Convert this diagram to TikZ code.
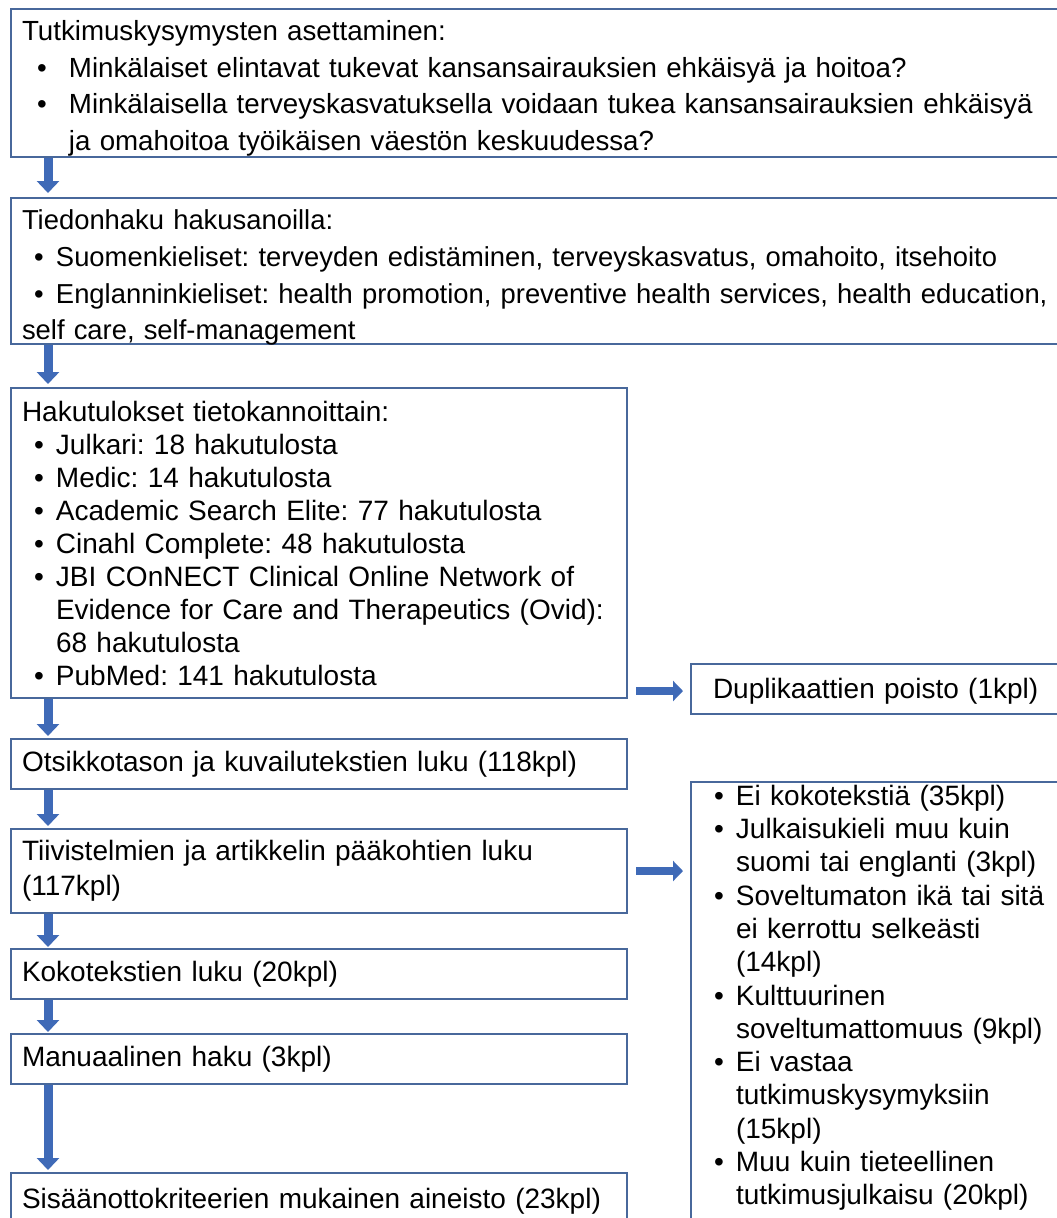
\documentclass[tikz,border=0pt]{standalone}
\usepackage{fontspec}
\setmainfont{Liberation Sans}
\usetikzlibrary{arrows.meta,calc}
\definecolor{boxline}{RGB}{72,104,155}
\definecolor{arrfill}{RGB}{63,106,183}
\newcommand{\bA}[1]{\makebox[47pt][l]{\hspace*{15pt}\textbullet}#1}
\newcommand{\cA}[1]{\hspace*{47pt}#1}
\newcommand{\bB}[1]{\makebox[34pt][l]{\hspace*{12pt}\textbullet}#1}
\newcommand{\cB}[1]{\hspace*{34pt}#1}
\frenchspacing
\begin{document}
\begin{tikzpicture}[x=1pt,y=-1pt,
  box/.style={draw=boxline, line width=2pt, anchor=north west, align=left,
    inner xsep=11pt, inner ysep=0pt, font=\frenchspacing\fontsize{28}{36.7}\selectfont},
  varrow/.style={arrfill, line width=9pt, -{Triangle[width=22pt,length=12pt]}},
  harrow/.style={arrfill, line width=8pt, -{Triangle[width=20pt,length=10pt]}}]
\useasboundingbox (0,0) rectangle (1057,1218);
\fill[white] (0,0) rectangle (1057,1218);
\clip (0,0) rectangle (1057,1218);

\node[box, text width=1060pt, minimum height=148pt, font=\frenchspacing\fontsize{27.7}{36.7}\selectfont] (b1) at (10,8) {%
\rule{0pt}{31pt}Tutkimuskysymysten asettaminen:\\
\bA{Minkälaiset elintavat tukevat kansansairauksien ehkäisyä ja hoitoa?}\\
\bA{Minkälaisella terveyskasvatuksella voidaan tukea kansansairauksien ehkäisyä}\\
\cA{ja omahoitoa työikäisen väestön keskuudessa?}};

\node[box, text width=1060pt, minimum height=146pt, inner ysep=-3pt, font=\frenchspacing\fontsize{27.4}{36.7}\selectfont] (b2) at (10,197) {%
\rule{0pt}{33pt}Tiedonhaku hakusanoilla:\\
\bB{Suomenkieliset: terveyden edistäminen, terveyskasvatus, omahoito, itsehoito}\\
\bB{Englanninkieliset: health promotion, preventive health services, health education,}\\
self care, self-management};

\node[box, text width=594pt, minimum height=310pt, font=\frenchspacing\fontsize{28}{33}\selectfont] (b3) at (10,387) {%
Hakutulokset tietokannoittain:\\
\bB{Julkari: 18 hakutulosta}\\
\bB{Medic: 14 hakutulosta}\\
\bB{Academic Search Elite: 77 hakutulosta}\\
\bB{Cinahl Complete: 48 hakutulosta}\\
\bB{JBI COnNECT Clinical Online Network of}\\
\cB{Evidence for Care and Therapeutics (Ovid):}\\
\cB{68 hakutulosta}\\
\bB{PubMed: 141 hakutulosta}};

\node[box, text width=594pt, minimum height=50pt] (b4) at (10,738) {Otsikkotason ja kuvailutekstien luku (118kpl)};

\node[box, text width=594pt, minimum height=84pt, font=\frenchspacing\fontsize{28}{35}\selectfont] (b5) at (10,828) {%
Tiivistelmien ja artikkelin pääkohtien luku\\(117kpl)};

\node[box, text width=594pt, minimum height=50pt] (b6) at (10,948) {Kokotekstien luku (20kpl)};

\node[box, text width=594pt, minimum height=50pt] (b7) at (10,1033) {Manuaalinen haku (3kpl)};

\node[box, text width=594pt, inner ysep=15pt] (b8) at (10,1172) {Sisäänottokriteerien mukainen aineisto (23kpl)};

\node[box, text width=400pt, inner xsep=22pt, minimum height=50pt] (d1) at (690,663) {\rule{0pt}{25pt}Duplikaattien poisto (1kpl)};

\node[box, text width=400pt, inner ysep=3pt, font=\frenchspacing\fontsize{28}{33.3}\selectfont] (e1) at (690,781) {%
\bB{Ei kokotekstiä (35kpl)}\\
\bB{Julkaisukieli muu kuin}\\
\cB{suomi tai englanti (3kpl)}\\
\bB{Soveltumaton ikä tai sitä}\\
\cB{ei kerrottu selkeästi}\\
\cB{(14kpl)}\\
\bB{Kulttuurinen}\\
\cB{soveltumattomuus (9kpl)}\\
\bB{Ei vastaa}\\
\cB{tutkimuskysymyksiin}\\
\cB{(15kpl)}\\
\bB{Muu kuin tieteellinen}\\
\cB{tutkimusjulkaisu (20kpl)}\\
\rule{0pt}{40pt}};

\draw[varrow] ($(b1.south west)+(38,0)$) -- ($(b2.north west)+(38,-4)$);
\draw[varrow] ($(b2.south west)+(38,0)$) -- ($(b3.north west)+(38,-3)$);
\draw[varrow] ($(b3.south west)+(38,0)$) -- ($(b4.north west)+(38,-2)$);
\draw[varrow] ($(b4.south west)+(38,0)$) -- ($(b5.north west)+(38,-2)$);
\draw[varrow] ($(b5.south west)+(38,0)$) -- ($(b6.north west)+(38,-1)$);
\draw[varrow] ($(b6.south west)+(38,0)$) -- ($(b7.north west)+(38,-1)$);
\draw[varrow] ($(b7.south west)+(38,0)$) -- ($(b8.north west)+(38,-2)$);
\draw[harrow] ($(b3.east |- d1.west)+(8,2)$) -- ($(d1.west)+(-7,2)$);
\draw[harrow] ($(b5.east)+(8,0)$) -- ($(e1.west |- b5.east)+(-7,0)$);
\end{tikzpicture}
\end{document}
